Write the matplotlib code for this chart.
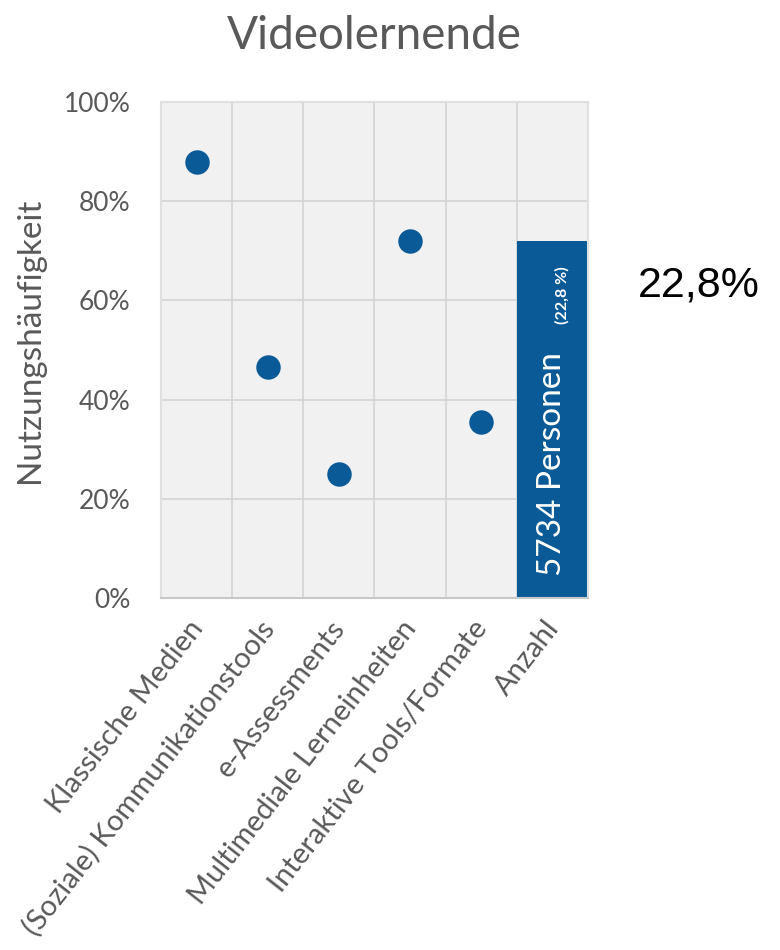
import matplotlib.pyplot as plt
import matplotlib.transforms as mtransforms
import numpy as np

# Nutzungshäufigkeit der Werkzeuge bei Videolernenden
kategorien = [
    "Klassische Medien",
    "(Soziale) Kommunikationstools",
    "e-Assessments",
    "Multimediale Lerneinheiten",
    "Interaktive Tools/Formate",
    "Anzahl",
]
nutzung = [88, 46.5, 25, 72, 35.5]  # in %
anzahl_balken = 72  # Höhe der Anzahl-Säule
anzahl_personen = 5734
anteil = "22,8"
y_ticks = [0, 20, 40, 60, 80, 100]

blau = "#0a5a97"
grau_text = "#595959"

plt.rcParams['font.family'] = ['Lato', 'DejaVu Sans']

fig = plt.figure(figsize=(7.8, 9.5), dpi=100)
ax = fig.add_axes([0.2064, 0.3705, 0.5474, 0.5221])

ax.set_xlim(0, len(kategorien))
ax.set_ylim(0, 100)
ax.set_facecolor("#f1f1f1")

# Gitter: eine Zelle je Kategorie und 20%-Schritt
for x in range(1, len(kategorien)):
    ax.axvline(x, color="#d3d3d3", lw=1.2, zorder=1)
for y in y_ticks[1:-1]:
    ax.axhline(y, color="#d3d3d3", lw=1.2, zorder=1)

for s in ["top", "right", "left"]:
    ax.spines[s].set_color("#e0e0e0")
    ax.spines[s].set_linewidth(1.5)
ax.spines["bottom"].set_color("#c8c8c8")
ax.spines["bottom"].set_linewidth(1.5)

xs = np.arange(len(nutzung)) + 0.5
ax.scatter(xs, nutzung, s=310, color=blau, zorder=3, linewidths=0)

# Säule für die Anzahl der Personen
ax.bar(len(kategorien) - 0.5, anzahl_balken, width=1.0, color=blau, zorder=2)
ax.text(len(kategorien) - 0.5, 4.5, f"{anzahl_personen} Personen",
        rotation=90, ha="center", va="bottom", color="white", fontsize=24, zorder=4)
ax.text(len(kategorien) - 0.36, 55.2, f"({anteil} %)",
        rotation=90, ha="center", va="bottom", color="white", fontsize=11.5,
        fontweight="bold", zorder=4)

ax.set_yticks(y_ticks)
ax.set_yticklabels([f"{v}%" for v in y_ticks], color=grau_text, fontsize=19)
ax.set_xticks(np.arange(len(kategorien)) + 0.5)
ax.set_xticklabels(kategorien, rotation=52, ha="right", va="top",
                   rotation_mode="anchor", color=grau_text, fontsize=21)
ax.tick_params(length=0)
ax.tick_params(axis="y", pad=22)
ax.tick_params(axis="x", pad=13)

# Beschriftungen der Kategorien etwas nach links rücken
verschiebung = mtransforms.ScaledTranslation(-9 / 100, 0, fig.dpi_scale_trans)
for lbl in ax.get_xticklabels():
    lbl.set_transform(lbl.get_transform() + verschiebung)

ax.set_ylabel("Nutzungshäufigkeit", color=grau_text, fontsize=24)
ax.yaxis.set_label_coords(-0.272, 0.52)
ax.set_title("Videolernende", color=grau_text, fontsize=33, pad=38)

fig.text(0.974, 0.70, f"{anteil}%", ha="right", va="center", fontsize=31,
         family=["Liberation Sans", "DejaVu Sans"], color="black")

fig.savefig("out.png", dpi=100)
